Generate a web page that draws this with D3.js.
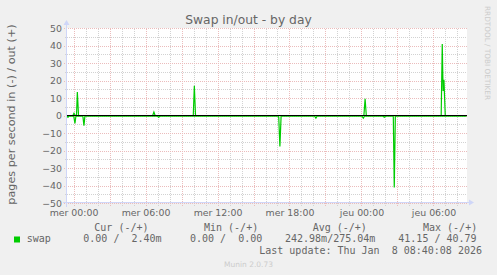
<!DOCTYPE html>
<html>
<head>
<meta charset="utf-8">
<script src="https://cdn.jsdelivr.net/npm/d3@7"></script>
<style>
  body { margin: 0; background: #f0f0f0; }
  svg { display: block; }
  text { font-family: "DejaVu Sans", sans-serif; fill: #666666; }
  .mono { font-family: "DejaVu Sans Mono", monospace; white-space: pre; }
</style>
</head>
<body>
<svg width="497" height="275"></svg>
<script>
//hours counted from wednesday 00:00, values in pages per second
//swap out is drawn above zero
const outHours = [-0.54, -0.05, 0.04, 0.15, 0.25, 0.32, 0.42, 6.6, 6.7, 6.8, 9.98, 10.07, 10.17, 24.2, 24.3, 24.4, 30.64, 30.73, 30.8, 30.87, 30.98, 32.75]
const outValues = [0, 0, 1.3, 0, 0, 13.4, 0, 0, 2, 0, 0, 17, 0, 0, 9.5, 0, 0, 40.79, 14, 20.4, 0, 0]

//swap in is drawn below zero
const inHours = [-0.54, -0.46, -0.38, 0.02, 0.12, 0.2, 0.78, 0.87, 0.95, 7.0, 7.1, 7.2, 17.1, 17.2, 17.3, 20.1, 20.2, 20.3, 24.05, 24.15, 24.25, 25.8, 25.9, 26.0, 26.65, 26.73, 26.82, 32.75]
const inValues = [0.4, 1, 0.4, 0.4, 4.5, 0.4, 0.4, 5.8, 0.4, 0.4, 1, 0.4, 0.4, 17.7, 0.4, 0.4, 1.5, 0.4, 0.4, 1.5, 0.4, 0.4, 1, 0.4, 0.4, 41.15, 0.4, 0.4]

//axis labels
const yTicks = [50, 40, 30, 20, 10, 0, -10, -20, -30, -40, -50]
const xLabels = ['mer 00:00', 'mer 06:00', 'mer 12:00', 'mer 18:00', 'jeu 00:00', 'jeu 06:00']

//legend
const legendHeaders = ['Cur (-/+)', 'Min (-/+)', 'Avg (-/+)', 'Max (-/+)']
const legendValues = ['0.00 /  2.40m', '0.00 /  0.00', '242.98m/275.04m', '41.15 / 40.79']
const lastUpdate = 'Last update: Thu Jan  8 08:40:08 2026'

const svg = d3.select('svg')
const width = +svg.attr('width')
const height = +svg.attr('height')
const margin = { top: 28, right: 30, bottom: 72, left: 67 }
const innerWidth = 400
const innerHeight = height - margin.top - margin.bottom

//turns an hour offset into a date
const day0 = new Date(2026, 0, 7, 0, 0)
const toDate = h => new Date(day0.getTime() + h * 3600 * 1000)

const xScale = d3.scaleTime()
    .domain([toDate(-0.542), toDate(32.792)])
    .range([0, innerWidth])

const yScale = d3.scaleLinear()
    .domain([-50, 50])
    .range([innerHeight, 0])

//background and canvas
svg.append('rect').attr('width', width).attr('height', height).attr('fill', '#f0f0f0')

const g = svg.append('g')
    .attr('transform', `translate(${margin.left}, ${margin.top})`)

g.append('rect')
    .attr('width', innerWidth)
    .attr('height', innerHeight)
    .attr('fill', '#ffffff')

const hourTicks = d3.range(0, 33).map(toDate)
const majorHourTicks = d3.range(0, 33, 3).map(toDate)
const labelTicks = d3.range(0, 31, 6).map(toDate)
const minorY = d3.range(-45, 50, 10)

//minor grid
g.append('g')
    .attr('class', 'grid minor')
    .call(d3.axisBottom(xScale).tickValues(hourTicks).tickSize(-innerHeight - 3).tickFormat(''))
    .attr('transform', `translate(0, ${innerHeight + 3})`)
g.append('g')
    .attr('class', 'grid minor')
    .call(d3.axisLeft(yScale).tickValues(minorY).tickSize(-innerWidth - 2).tickFormat(''))
    .attr('transform', 'translate(-2, 0)')

//major grid
g.append('g')
    .attr('class', 'grid major')
    .call(d3.axisBottom(xScale).tickValues(majorHourTicks).tickSize(-innerHeight - 3).tickFormat(''))
    .attr('transform', `translate(0, ${innerHeight + 3})`)
g.append('g')
    .attr('class', 'grid major')
    .call(d3.axisLeft(yScale).tickValues(yTicks).tickSize(-innerWidth - 3).tickFormat(''))
    .attr('transform', 'translate(-3, 0)')

//grids need no domain and no empty labels
g.selectAll('.grid .domain').remove()
g.selectAll('.grid text').remove()
g.selectAll('.grid.minor line')
    .attr('stroke', '#d2d2d2')
    .attr('stroke-dasharray', '1,1')
    .attr('shape-rendering', 'crispEdges')
g.selectAll('.grid.major line')
    .attr('stroke', '#ebbcbc')
    .attr('stroke-dasharray', '1,1')
    .attr('shape-rendering', 'crispEdges')

//tick labels
const yAxis = g.append('g')
    .call(d3.axisLeft(yScale).tickValues(yTicks).tickSize(0).tickPadding(5))
yAxis.select('.domain').remove()
yAxis.selectAll('text')
    .attr('fill', '#666666')
    .style('font-size', '9.4px')
    .style('font-family', '"DejaVu Sans", sans-serif')

const xAxis = g.append('g')
    .attr('transform', `translate(0, ${innerHeight})`)
    .call(d3.axisBottom(xScale).tickValues(labelTicks).tickSize(0).tickPadding(6)
        .tickFormat((d, i) => xLabels[i]))
xAxis.select('.domain').remove()
xAxis.selectAll('text')
    .attr('fill', '#666666')
    .style('font-size', '9.4px')
    .style('font-family', '"DejaVu Sans", sans-serif')

//the data lines
const outLine = d3.line()
    .x((d, i) => xScale(toDate(outHours[i])))
    .y(d => yScale(d))
const inLine = d3.line()
    .x((d, i) => xScale(toDate(inHours[i])))
    .y(d => yScale(-d))

g.append('path')
    .attr('d', inLine(inValues))
    .attr('fill', 'none')
    .attr('stroke', '#00cc00')
    .attr('stroke-width', 1.2)
g.append('path')
    .attr('d', outLine(outValues))
    .attr('fill', 'none')
    .attr('stroke', '#00cc00')
    .attr('stroke-width', 1.2)

//black zero line
g.append('line')
    .attr('x1', 0).attr('x2', innerWidth)
    .attr('y1', yScale(0)).attr('y2', yScale(0))
    .attr('stroke', '#000000')
    .attr('stroke-width', 1)
    .attr('shape-rendering', 'crispEdges')

//axes with arrows
const axisColor = '#cfd6f8'
g.append('line')
    .attr('x1', -0.5).attr('x2', -0.5)
    .attr('y1', innerHeight + 4).attr('y2', -4)
    .attr('stroke', axisColor)
g.append('line')
    .attr('x1', -4).attr('x2', innerWidth + 3)
    .attr('y1', innerHeight - 0.5).attr('y2', innerHeight - 0.5)
    .attr('stroke', axisColor)
g.append('path')
    .attr('d', `M-3.5,-3 L-0.5,-8 L2.5,-3 Z`)
    .attr('fill', axisColor)
g.append('path')
    .attr('d', `M${innerWidth + 2},${innerHeight - 3.5} L${innerWidth + 7},${innerHeight - 0.5} L${innerWidth + 2},${innerHeight + 2.5} Z`)
    .attr('fill', axisColor)

//title
svg.append('text')
    .attr('x', width / 2)
    .attr('y', 23.5)
    .attr('text-anchor', 'middle')
    .style('font-size', '12.3px')
    .text('Swap in/out - by day')

//vertical unit label
svg.append('text')
    .attr('transform', `translate(15, ${margin.top + innerHeight / 2 - 1}) rotate(-90)`)
    .attr('text-anchor', 'middle')
    .style('font-size', '11.2px')
    .text('pages per second in (-) / out (+)')

//rrdtool watermark
svg.append('text')
    .attr('transform', 'translate(485, 53) rotate(90)')
    .attr('text-anchor', 'middle')
    .style('fill', '#cccccc')
    .style('font-size', '7.3px')
    .text('RRDTOOL / TOBI OETIKER')

//legend
const headerX = [94.3, 204, 312.7, 423]
const valueX = [83.3, 190, 285, 398.3]

svg.append('rect')
    .attr('x', 14).attr('y', 236.5)
    .attr('width', 6).attr('height', 6)
    .attr('fill', '#00cc00')
svg.append('text')
    .attr('class', 'mono')
    .attr('x', 26.7).attr('y', 242.3)
    .style('font-size', '10px')
    .text('swap')

svg.selectAll('.header')
    .data(legendHeaders)
    .enter().append('text')
    .attr('class', 'mono header')
    .attr('x', (d, i) => headerX[i])
    .attr('y', 230.7)
    .style('font-size', '10px')
    .text(d => d)

svg.selectAll('.value')
    .data(legendValues)
    .enter().append('text')
    .attr('class', 'mono value')
    .attr('x', (d, i) => valueX[i])
    .attr('y', 242.3)
    .style('font-size', '10px')
    .text(d => d)

svg.append('text')
    .attr('class', 'mono')
    .attr('x', 482).attr('y', 254)
    .attr('text-anchor', 'end')
    .style('font-size', '10px')
    .text(lastUpdate)

svg.append('text')
    .attr('x', width / 2).attr('y', 267)
    .attr('text-anchor', 'middle')
    .style('fill', '#cccccc')
    .style('font-size', '7.5px')
    .text('Munin 2.0.73')
</script>
</body>
</html>
